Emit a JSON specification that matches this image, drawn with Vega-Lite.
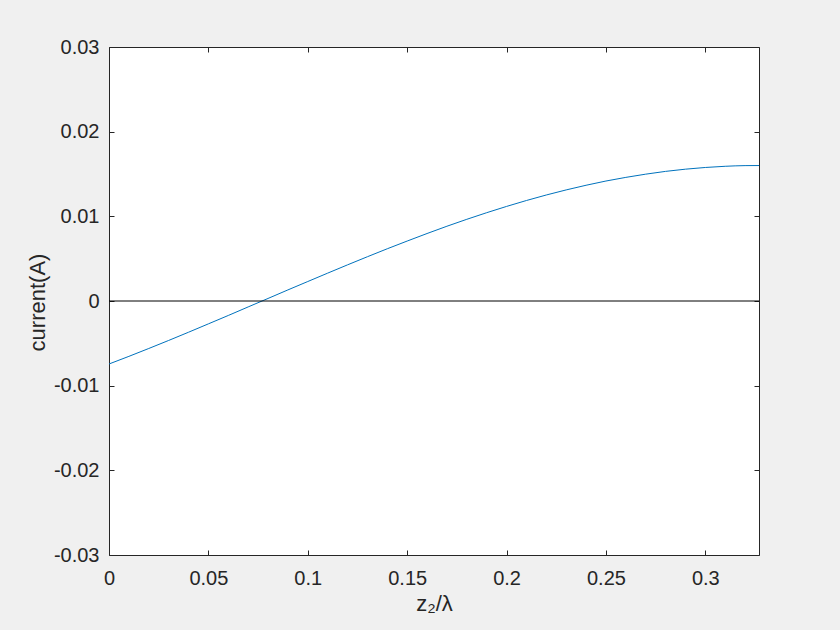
{
  "$schema": "https://vega.github.io/schema/vega-lite/v6.json",
  "autosize": "none",
  "padding": {"left": 109, "top": 47, "right": 81, "bottom": 75},
  "width": 650,
  "height": 508,
  "background": "#f0f0f0",
  "config": {
    "view": {"fill": "white", "stroke": "#262626", "strokeWidth": 1},
    "axis": {
      "grid": false,
      "domain": false,
      "labelFlush": false,
      "tickColor": "#262626",
      "tickSize": -5,
      "labelColor": "#262626",
      "labelFont": "Liberation Sans",
      "labelFontSize": 20,
      "titleFont": "Liberation Sans",
      "titleFontSize": 22,
      "titleFontWeight": "normal",
      "titleColor": "#262626",
      "labelExpr": "replace(format(datum.value, '~g'), '−', '-')"
    }
  },
  "data": {
    "values": [
      {"z": 0.0, "current": -0.00744},
      {"z": 0.01, "current": -0.00654},
      {"z": 0.02, "current": -0.00561},
      {"z": 0.03, "current": -0.00466},
      {"z": 0.04, "current": -0.00369},
      {"z": 0.05, "current": -0.0027},
      {"z": 0.06, "current": -0.00171},
      {"z": 0.07, "current": -0.0007},
      {"z": 0.08, "current": 0.0003},
      {"z": 0.09, "current": 0.00131},
      {"z": 0.1, "current": 0.0023},
      {"z": 0.11, "current": 0.00329},
      {"z": 0.12, "current": 0.00427},
      {"z": 0.13, "current": 0.00523},
      {"z": 0.14, "current": 0.00617},
      {"z": 0.15, "current": 0.00708},
      {"z": 0.16, "current": 0.00797},
      {"z": 0.17, "current": 0.00883},
      {"z": 0.18, "current": 0.00965},
      {"z": 0.19, "current": 0.01043},
      {"z": 0.2, "current": 0.01117},
      {"z": 0.21, "current": 0.01187},
      {"z": 0.22, "current": 0.01252},
      {"z": 0.23, "current": 0.01312},
      {"z": 0.24, "current": 0.01367},
      {"z": 0.25, "current": 0.01417},
      {"z": 0.26, "current": 0.0146},
      {"z": 0.27, "current": 0.01498},
      {"z": 0.28, "current": 0.01531},
      {"z": 0.29, "current": 0.01557},
      {"z": 0.3, "current": 0.01577},
      {"z": 0.31, "current": 0.01591},
      {"z": 0.32, "current": 0.01599},
      {"z": 0.327, "current": 0.016}
    ]
  },
  "layer": [
    {
      "mark": {"type": "line", "color": "#0072bd", "strokeWidth": 1, "interpolate": "monotone"},
      "encoding": {
        "x": {
          "field": "z", "type": "quantitative",
          "scale": {"domain": [0, 0.327], "nice": false, "zero": false},
          "axis": {"orient": "bottom", "values": [0, 0.05, 0.1, 0.15, 0.2, 0.25, 0.3], "title": "z₂/λ", "labelPadding": 18, "titlePadding": 5}
        },
        "y": {
          "field": "current", "type": "quantitative",
          "scale": {"domain": [-0.03, 0.03], "nice": false},
          "axis": {"orient": "left", "values": [-0.03, -0.02, -0.01, 0, 0.01, 0.02, 0.03], "title": "current(A)", "labelPadding": 15, "titleX": -60, "titleY": 255}
        }
      }
    },
    {
      "mark": {"type": "line", "opacity": 0},
      "encoding": {
        "x": {
          "field": "z", "type": "quantitative",
          "scale": {"domain": [0, 0.327], "nice": false, "zero": false},
          "axis": {"orient": "top", "values": [0, 0.05, 0.1, 0.15, 0.2, 0.25, 0.3], "labels": false, "title": null}
        },
        "y": {
          "field": "current", "type": "quantitative",
          "scale": {"domain": [-0.03, 0.03], "nice": false},
          "axis": {"orient": "right", "values": [-0.03, -0.02, -0.01, 0, 0.01, 0.02, 0.03], "labels": false, "title": null}
        }
      }
    },
    {
      "data": {"values": [{"level": 0}]},
      "mark": {"type": "rule", "color": "black", "strokeWidth": 1},
      "encoding": {
        "y": {"field": "level", "type": "quantitative", "axis": null}
      }
    }
  ],
  "resolve": {"axis": {"x": "independent", "y": "independent"}}
}
